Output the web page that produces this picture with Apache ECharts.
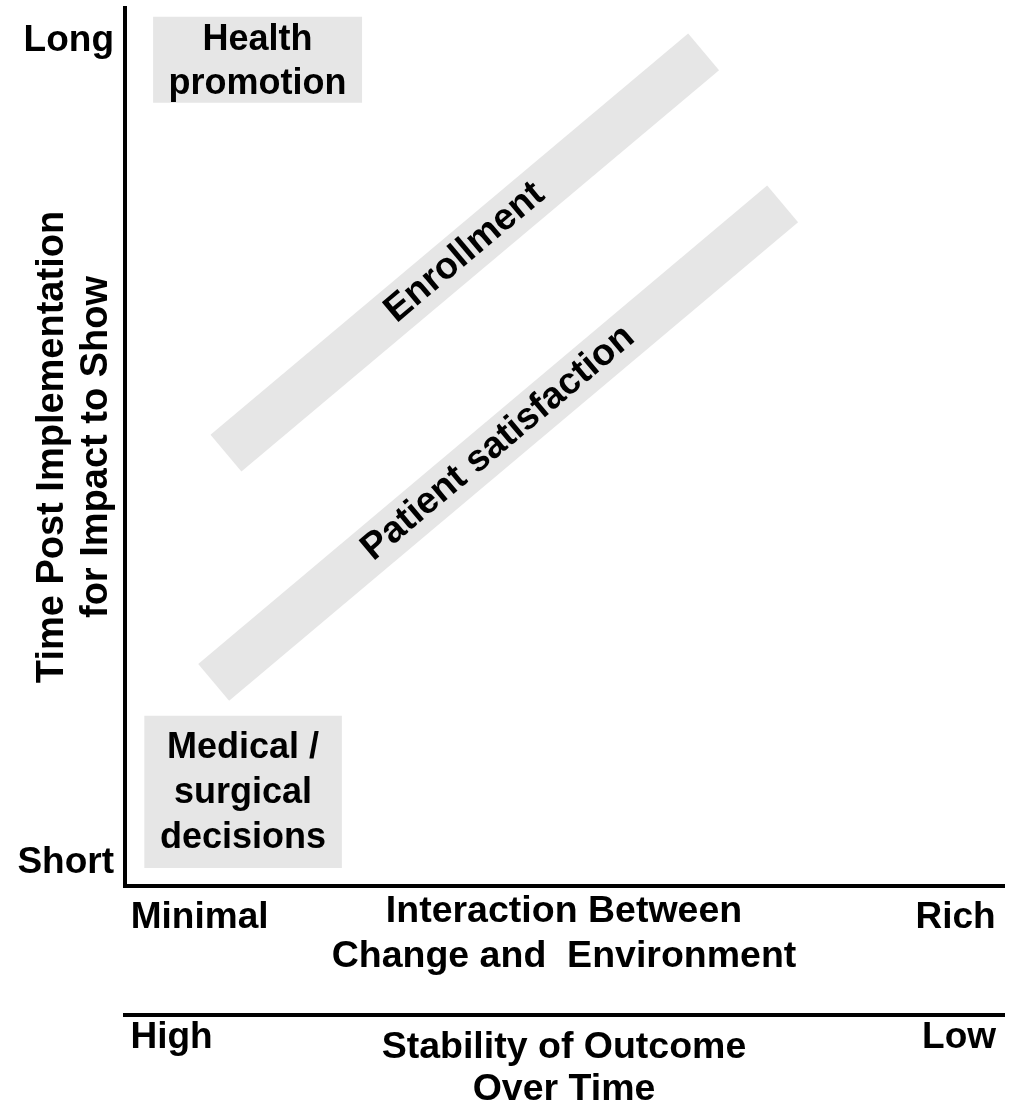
<!DOCTYPE html>
<html>
<head>
<meta charset="utf-8">
<script src="https://cdn.jsdelivr.net/npm/echarts@6/dist/echarts.min.js"></script>
<style>
  html, body { margin: 0; padding: 0; background: #fff; }
  #chart { width: 1011px; height: 1107px; }
</style>
</head>
<body>
<div id="chart"></div>
<script>
// Both axes run 0..100 (conceptual scale, no units)

// tick labels and the axis value they sit at
const yTickLabels = ['Short', 'Long']
const yTickValues = [2.6, 96.3]
const xTickLabels = ['Minimal', 'Rich']
const xTickValues = [8.5, 94.6]
const x2TickLabels = ['High', 'Low']
const x2TickValues = [5.3, 95.0]

// diagonal bands, centre line start / end
const bandNames = ['Enrollment', 'Patient satisfaction']
const bandStartX = [11.5, 10.1]
const bandStartY = [49.3, 23.2]
const bandEndX = [65.9, 74.9]
const bandEndY = [95.0, 77.7]

// shaded boxes
const boxNames = ['Health\npromotion', 'Medical /\nsurgical\ndecisions']
const boxX0 = [3.2, 2.2]
const boxX1 = [27.0, 24.7]
const boxY0 = [89.2, 2.05]
const boxY1 = [99.0, 19.4]

const FONT_FAMILY = '"Liberation Sans", Arial, Helvetica, sans-serif'
const BAND_FONT = 'bold 37.5px ' + FONT_FAMILY
const BOX_FONT = 'bold 36px ' + FONT_FAMILY
const GREY = '#e6e6e6'
const BAND_HALF = 24
// label tweaks for the boxes (px shift of text block, line height)
const boxLabelStyle = [
  { dy: 2, lineHeight: 44 },
  { dy: 1, lineHeight: 45 },
]

const bandData = bandNames.map((n, i) => [bandStartX[i], bandStartY[i], bandEndX[i], bandEndY[i]])
const boxData = boxNames.map((n, i) => [boxX0[i], boxX1[i], boxY0[i], boxY1[i]])

function nearestLabel(values, labels, v) {
  let best = 0
  values.forEach((x, i) => {
    if (Math.abs(x - v) < Math.abs(values[best] - v)) best = i
  })
  return labels[best]
}

function renderBand(params, api) {
  const p1 = api.coord([api.value(0), api.value(1)])
  const p2 = api.coord([api.value(2), api.value(3)])
  const dx = p2[0] - p1[0]
  const dy = p2[1] - p1[1]
  const len = Math.hypot(dx, dy)
  const nx = -dy / len * BAND_HALF
  const ny = dx / len * BAND_HALF
  return {
    type: 'group',
    children: [
      {
        type: 'polygon',
        shape: {
          points: [
            [p1[0] + nx, p1[1] + ny],
            [p2[0] + nx, p2[1] + ny],
            [p2[0] - nx, p2[1] - ny],
            [p1[0] - nx, p1[1] - ny],
          ],
        },
        style: { fill: GREY },
      },
      {
        type: 'text',
        x: (p1[0] + p2[0]) / 2,
        y: (p1[1] + p2[1]) / 2,
        rotation: Math.atan2(-dy, dx),
        style: {
          text: bandNames[params.dataIndex],
          x: 0,
          y: 0,
          align: 'center',
          verticalAlign: 'middle',
          font: BAND_FONT,
          fill: '#000',
        },
      },
    ],
  }
}

function renderBox(params, api) {
  const tl = api.coord([api.value(0), api.value(3)])
  const br = api.coord([api.value(1), api.value(2)])
  const st = boxLabelStyle[params.dataIndex]
  return {
    type: 'group',
    children: [
      {
        type: 'rect',
        shape: { x: tl[0], y: tl[1], width: br[0] - tl[0], height: br[1] - tl[1] },
        style: { fill: GREY },
      },
      {
        type: 'text',
        x: (tl[0] + br[0]) / 2,
        y: (tl[1] + br[1]) / 2 + st.dy,
        style: {
          text: boxNames[params.dataIndex],
          align: 'center',
          verticalAlign: 'middle',
          font: BOX_FONT,
          lineHeight: st.lineHeight,
          fill: '#000',
        },
      },
    ],
  }
}

const textStyle = {
  fontSize: 37,
  fontWeight: 'bold',
  fontFamily: FONT_FAMILY,
  color: '#000',
}
const axisLine = { show: true, lineStyle: { color: '#000', width: 4, cap: 'square' } }

const chart = echarts.init(document.getElementById('chart'))

chart.setOption({
  animation: false,
  backgroundColor: '#fff',
  grid: { left: 125, right: 8, top: 8, bottom: 221, containLabel: false, outerBoundsMode: 'none' },
  xAxis: [
    {
      type: 'value',
      min: 0,
      max: 100,
      position: 'bottom',
      axisLine,
      axisTick: { show: false },
      splitLine: { show: false },
      axisLabel: {
        ...textStyle,
        lineHeight: 36,
        margin: 14,
        customValues: xTickValues,
        formatter: v => nearestLabel(xTickValues, xTickLabels, v),
      },
      name: 'Interaction Between\nChange and  Environment',
      nameLocation: 'middle',
      nameGap: 3,
      nameMoveOverlap: false,
      nameTextStyle: { ...textStyle, fontSize: 37.5, lineHeight: 45 },
    },
    {
      type: 'value',
      min: 0,
      max: 100,
      position: 'bottom',
      offset: 128.5,
      axisLine,
      axisTick: { show: false },
      splitLine: { show: false },
      axisLabel: {
        ...textStyle,
        lineHeight: 36,
        margin: 5,
        customValues: x2TickValues,
        formatter: v => nearestLabel(x2TickValues, x2TickLabels, v),
      },
      name: 'Stability of Outcome\nOver Time',
      nameLocation: 'middle',
      nameGap: 12,
      nameMoveOverlap: false,
      nameTextStyle: { ...textStyle, fontSize: 37.5, lineHeight: 42 },
    },
  ],
  yAxis: {
    type: 'value',
    min: 0,
    max: 100,
    axisLine,
    axisTick: { show: false },
    splitLine: { show: false },
    axisLabel: {
      ...textStyle,
      lineHeight: 36,
      margin: 11,
      customValues: yTickValues,
      formatter: v => nearestLabel(yTickValues, yTickLabels, v),
    },
    name: 'Time Post Implementation\nfor Impact to Show',
    nameLocation: 'middle',
    nameGap: 6,
    nameMoveOverlap: false,
    nameTextStyle: { ...textStyle, fontSize: 38, lineHeight: 44 },
  },
  series: [
    {
      type: 'custom',
      name: 'bands',
      renderItem: renderBand,
      encode: { x: [0, 2], y: [1, 3] },
      data: bandData,
      silent: true,
    },
    {
      type: 'custom',
      name: 'boxes',
      renderItem: renderBox,
      encode: { x: [0, 1], y: [2, 3] },
      data: boxData,
      silent: true,
    },
  ],
})
</script>
</body>
</html>
